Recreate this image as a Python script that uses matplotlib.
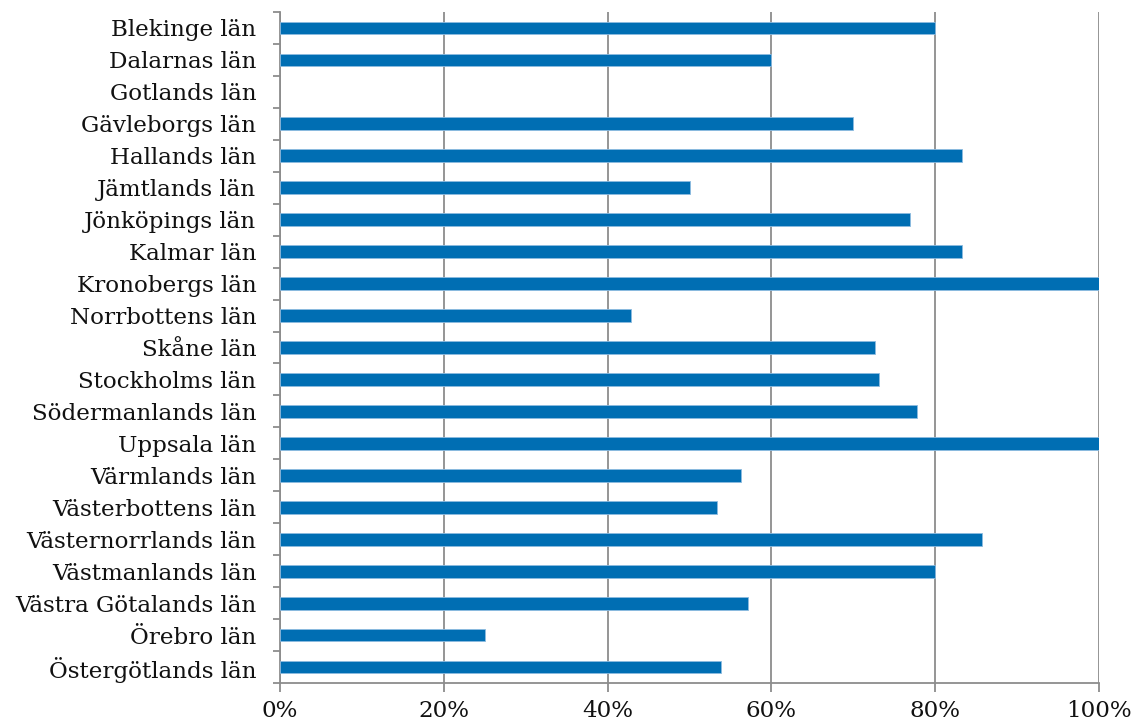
import matplotlib
matplotlib.use("Agg")
import matplotlib.pyplot as plt
from matplotlib.ticker import FuncFormatter
import numpy as np

categories = [
    "Blekinge län", "Dalarnas län", "Gotlands län", "Gävleborgs län",
    "Hallands län", "Jämtlands län", "Jönköpings län", "Kalmar län",
    "Kronobergs län", "Norrbottens län", "Skåne län", "Stockholms län",
    "Södermanlands län", "Uppsala län", "Värmlands län", "Västerbottens län",
    "Västernorrlands län", "Västmanlands län", "Västra Götalands län",
    "Örebro län", "Östergötlands län",
]
values = [
    0.80, 0.60, 0.0, 0.70,
    0.833, 0.50, 0.769, 0.833,
    1.00, 0.429, 0.727, 0.731,
    0.778, 1.00, 0.5625, 0.533,
    0.857, 0.80, 0.571,
    0.25, 0.538,
]
x_ticks = [0, 0.2, 0.4, 0.6, 0.8, 1.0]

plt.rcParams['font.family'] = ['DejaVu Serif']

fig = plt.figure(figsize=(11.32, 7.28), dpi=100)
ax = fig.add_axes([280/1132, 1-683/728, (1099-280)/1132, (683-12)/728])

y = np.arange(len(categories))
lws = [0.6 if v > 0 else 0 for v in values]
ax.barh(y, values, height=0.4, color='#006EB3', edgecolor='#8DBBE0', linewidth=lws, zorder=3)

ax.set_ylim(len(categories) - 0.5, -0.5)
ax.set_xlim(0, 1.0)
ax.set_xticks(x_ticks)
ax.xaxis.set_major_formatter(FuncFormatter(lambda v, p: f"{int(round(v*100))}%"))
ax.set_yticks(y)
ax.set_yticklabels(categories)
ax.set_yticks(np.arange(-0.5, len(categories), 1.0), minor=True)

grid_c = '#8C8C8C'
ax.grid(axis='x', color=grid_c, linewidth=1.3, zorder=1)
for s in ['top', 'right']:
    ax.spines[s].set_visible(False)
for s in ['left', 'bottom']:
    ax.spines[s].set_color(grid_c)
    ax.spines[s].set_linewidth(1.3)

ax.tick_params(axis='y', which='major', length=0, pad=17, labelsize=16.6, labelcolor='#111111')
ax.tick_params(axis='y', which='minor', length=5, width=1.3, color=grid_c, direction='out')
ax.tick_params(axis='x', which='major', length=6.5, width=1.3, color=grid_c, pad=6, labelsize=16.6, labelcolor='#111111')

fig.savefig("out.png", dpi=100)
